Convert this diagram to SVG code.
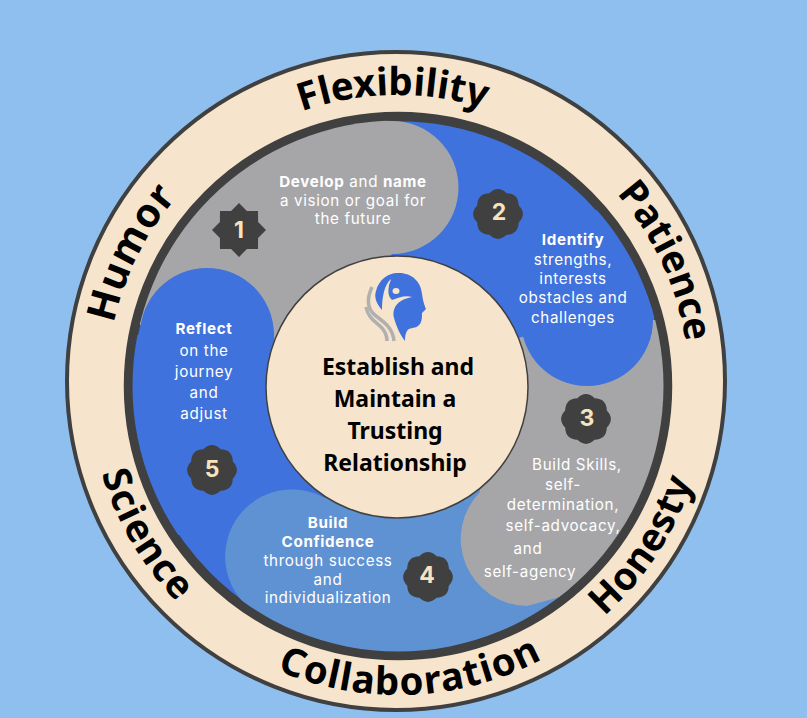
<svg xmlns="http://www.w3.org/2000/svg" width="807" height="718" viewBox="0 0 807 718">
<style>
.body{font-family:"Inter","Liberation Sans",sans-serif;font-size:15.2px;letter-spacing:.65px;fill:#fff;text-anchor:middle}
.b{font-weight:700}
.num{font-family:"Inter","Liberation Sans",sans-serif;font-size:23px;font-weight:700;fill:#f8e3bf;text-anchor:middle}
.mid{font-family:"Noto Sans","Liberation Sans",sans-serif;font-size:23px;font-weight:700;fill:#000;text-anchor:middle}
.ring{font-family:"Noto Sans","Liberation Sans",sans-serif;font-size:38.5px;font-weight:700;fill:#000;text-anchor:middle}
.blue{fill:#3f72dc}.gray{fill:#a6a6a9}.light{fill:#5f92d2}.dark{fill:#404040}
</style>
<defs>
<clipPath id="inner"><circle cx="398" cy="386" r="265.5"/></clipPath>
<path id="top" d="M398 677A291 291 0 1 1 398 95A291 291 0 1 1 398 677"/>
<path id="bot" d="M398 77A309 309 0 1 0 398 695A309 309 0 1 0 398 77"/>
<polygon id="spike" points="27,0 19.1,7.9 19,19 7.9,19.1 0,27 -7.9,19.1 -19,19 -19.1,7.9 -27,0 -19.1,-7.9 -19,-19 -7.9,-19.1 0,-27 7.9,-19.1 19,-19 19.1,-7.9"/>
<path id="scallop" d="M20.8 8.6Q29 0 20.8 -8.6Q20.5 -20.5 8.6 -20.8Q0 -29 -8.6 -20.8Q-20.5 -20.5 -20.8 -8.6Q-29 0 -20.8 8.6Q-20.5 20.5 -8.6 20.8Q0 29 8.6 20.8Q20.5 20.5 20.8 8.6Z"/>
</defs>
<rect width="807" height="718" fill="#8fbfef"/>
<g id="ring">
<circle cx="396" cy="381" r="329" fill="#f6e5cc" stroke="#404040" stroke-width="4"/>
<circle cx="398" cy="386" r="269.5" class="blue" stroke="#404040" stroke-width="9.5"/>
</g>
<g id="bands" clip-path="url(#inner)">
<path class="gray" d="M392 121A66.5 66.5 0 0 1 392 254L280 390L130 320L100 100Z"/>
<circle class="blue" cx="207" cy="335" r="67"/>
<rect class="blue" x="120" y="335" width="154" height="200"/>
<path class="light" d="M325 498A67 67 0 0 0 245 604L300 700L570 700L570 470L440 470Z"/>
<path class="gray" d="M527 606A67 67 0 0 1 480 492L470 350L590 320L700 320L700 600L560 597Z"/>
<path class="blue" d="M653 320A66 66 0 0 1 521 320L500 250L620 200L700 250Z"/>
</g>
<g id="center">
<circle cx="397" cy="387" r="131" fill="#f6e5cc" stroke="#404040" stroke-width="1.5"/>
<path fill="none" stroke="#b0b0b0" stroke-width="3.5" d="M372 287C366 300 368 310 376 316C384 322 393 328 394 341"/>
<path fill="none" stroke="#b0b0b0" stroke-width="3.5" d="M366 307C368 318 376 322 381 327C385 331 387 335 387 341"/>
<path class="blue" d="M382 310C376 303 374 297 376 291C379 279 389 273 397 273C411 272 421 281 422 294C423 301 424 304 426 309L422 313C422 318 422 323 418 326C414 329 409 327 407 331C405 334 405 338 405 341C400 335 396 325 394 318C392 309 396 300 412 297C405 295 398 298 392 300C388 296 388 292 389 285C390 282 391 280 391 279C384 285 382 298 382 310Z"/>
<ellipse cx="396" cy="291" rx="3.5" ry="3" fill="#f6e5cc"/>
<text class="mid" x="398" y="375">Establish and</text>
<text class="mid" x="395" y="407">Maintain a</text>
<text class="mid" x="395" y="439">Trusting</text>
<text class="mid" x="395" y="471">Relationship</text>
</g>
<g id="step1">
<use href="#spike" x="239" y="230" class="dark"/>
<text class="num" x="239" y="238">1</text>
<text class="body" x="353" y="187"><tspan class="b">Develop</tspan> and <tspan class="b">name</tspan></text>
<text class="body" x="353" y="205.5">a vision or goal for</text>
<text class="body" x="353" y="224">the future</text>
</g>
<g id="step2">
<use href="#scallop" x="498" y="214" class="dark"/>
<text class="num" x="499" y="220">2</text>
<text class="body b" x="573" y="245">Identify</text>
<text class="body" x="573" y="265">strengths,</text>
<text class="body" x="573" y="284">interests</text>
<text class="body" x="573" y="303">obstacles and</text>
<text class="body" x="573" y="323">challenges</text>
</g>
<g id="step3">
<use href="#scallop" x="586" y="419" class="dark"/>
<text class="num" x="587" y="426">3</text>
<text class="body" x="577" y="470">Build Skills,</text>
<text class="body" x="563" y="490">self-</text>
<text class="body" x="563" y="510">determination,</text>
<text class="body" x="563" y="531">self-advocacy,</text>
<text class="body" x="528" y="554">and</text>
<text class="body" x="530" y="577">self-agency</text>
</g>
<g id="step4">
<use href="#scallop" x="428" y="577" class="dark"/>
<text class="num" x="427" y="583">4</text>
<text class="body b" x="328" y="528">Build</text>
<text class="body b" x="328" y="547">Confidence</text>
<text class="body" x="328" y="566">through success</text>
<text class="body" x="328" y="584.5">and</text>
<text class="body" x="328" y="603">individualization</text>
</g>
<g id="step5">
<use href="#scallop" x="212" y="470" class="dark"/>
<text class="num" x="212" y="477">5</text>
<text class="body b" x="204" y="334">Reflect</text>
<text class="body" x="204" y="356">on the</text>
<text class="body" x="204" y="377">journey</text>
<text class="body" x="204" y="398">and</text>
<text class="body" x="204" y="419">adjust</text>
</g>
<g id="values">
<text class="ring" transform="rotate(-1 398 386)"><textPath href="#top" startOffset="50%">Flexibility</textPath></text>
<text class="ring" transform="rotate(65 398 386)"><textPath href="#top" startOffset="50%">Patience</textPath></text>
<text class="ring" transform="rotate(-63.5 398 386)" style="font-size:40px" letter-spacing="1"><textPath href="#top" startOffset="50%">Humor</textPath></text>
<text class="ring" transform="rotate(-2.5 398 386)" letter-spacing="1.2"><textPath href="#bot" startOffset="50%">Collaboration</textPath></text>
<text class="ring" transform="rotate(-57 398 386)" letter-spacing=".6"><textPath href="#bot" startOffset="50%">Honesty</textPath></text>
<text class="ring" transform="rotate(59.5 398 386)" letter-spacing="1.2"><textPath href="#bot" startOffset="50%">Science</textPath></text>
</g>
</svg>
